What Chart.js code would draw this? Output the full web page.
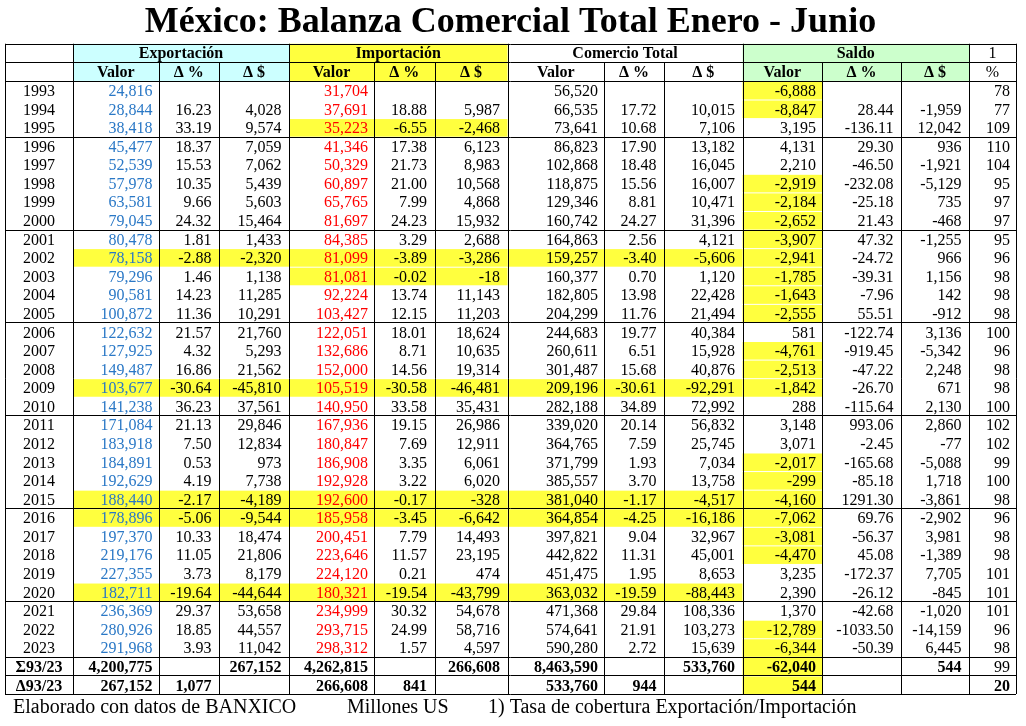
<!DOCTYPE html>
<html lang="es">
<head>
<meta charset="UTF-8">
<title>México: Balanza Comercial Total Enero - Junio</title>
<script src="https://cdn.jsdelivr.net/npm/chart.js"></script>
<style>
    body { margin: 0; background: white; }
    #wrap { width: 1026px; height: 726px; }
</style>
</head>
<body>
<div id="wrap"><canvas id="tabla" width="1026" height="726"></canvas></div>
<script>
    // datos en millones de US$, enero-junio de cada año
    const years = ['1993','1994','1995','1996','1997','1998','1999','2000','2001','2002','2003','2004','2005','2006','2007','2008','2009','2010','2011','2012','2013','2014','2015','2016','2017','2018','2019','2020','2021','2022','2023'];

    const expValor = [24816,28844,38418,45477,52539,57978,63581,79045,80478,78158,79296,90581,100872,122632,127925,149487,103677,141238,171084,183918,184891,192629,188440,178896,197370,219176,227355,182711,236369,280926,291968];
    const expPct = [null,16.23,33.19,18.37,15.53,10.35,9.66,24.32,1.81,-2.88,1.46,14.23,11.36,21.57,4.32,16.86,-30.64,36.23,21.13,7.50,0.53,4.19,-2.17,-5.06,10.33,11.05,3.73,-19.64,29.37,18.85,3.93];
    const expDiff = [null,4028,9574,7059,7062,5439,5603,15464,1433,-2320,1138,11285,10291,21760,5293,21562,-45810,37561,29846,12834,973,7738,-4189,-9544,18474,21806,8179,-44644,53658,44557,11042];

    const impValor = [31704,37691,35223,41346,50329,60897,65765,81697,84385,81099,81081,92224,103427,122051,132686,152000,105519,140950,167936,180847,186908,192928,192600,185958,200451,223646,224120,180321,234999,293715,298312];
    const impPct = [null,18.88,-6.55,17.38,21.73,21.00,7.99,24.23,3.29,-3.89,-0.02,13.74,12.15,18.01,8.71,14.56,-30.58,33.58,19.15,7.69,3.35,3.22,-0.17,-3.45,7.79,11.57,0.21,-19.54,30.32,24.99,1.57];
    const impDiff = [null,5987,-2468,6123,8983,10568,4868,15932,2688,-3286,-18,11143,11203,18624,10635,19314,-46481,35431,26986,12911,6061,6020,-328,-6642,14493,23195,474,-43799,54678,58716,4597];

    const comValor = [56520,66535,73641,86823,102868,118875,129346,160742,164863,159257,160377,182805,204299,244683,260611,301487,209196,282188,339020,364765,371799,385557,381040,364854,397821,442822,451475,363032,471368,574641,590280];
    const comPct = [null,17.72,10.68,17.90,18.48,15.56,8.81,24.27,2.56,-3.40,0.70,13.98,11.76,19.77,6.51,15.68,-30.61,34.89,20.14,7.59,1.93,3.70,-1.17,-4.25,9.04,11.31,1.95,-19.59,29.84,21.91,2.72];
    const comDiff = [null,10015,7106,13182,16045,16007,10471,31396,4121,-5606,1120,22428,21494,40384,15928,40876,-92291,72992,56832,25745,7034,13758,-4517,-16186,32967,45001,8653,-88443,108336,103273,15639];

    const salValor = [-6888,-8847,3195,4131,2210,-2919,-2184,-2652,-3907,-2941,-1785,-1643,-2555,581,-4761,-2513,-1842,288,3148,3071,-2017,-299,-4160,-7062,-3081,-4470,3235,2390,1370,-12789,-6344];
    const salPct = [null,28.44,-136.11,29.30,-46.50,-232.08,-25.18,21.43,47.32,-24.72,-39.31,-7.96,55.51,-122.74,-919.45,-47.22,-26.70,-115.64,993.06,-2.45,-165.68,-85.18,1291.30,69.76,-56.37,45.08,-172.37,-26.12,-42.68,-1033.50,-50.39];
    const salDiff = [null,-1959,12042,936,-1921,-5129,735,-468,-1255,966,1156,142,-912,3136,-5342,2248,671,2130,2860,-77,-5088,1718,-3861,-2902,3981,-1389,7705,-845,-1020,-14159,6445];

    // 1) tasa de cobertura exportación/importación (%)
    const cobertura = [78,77,109,110,104,95,97,97,95,96,98,98,98,100,96,98,98,100,102,102,99,100,98,96,98,98,101,101,101,96,98];

    const sumLabels = ['Σ93/23', 'Δ93/23'];
    const sumTotal = [4200775, null, 267152, 4262815, null, 266608, 8463590, null, 533760, -62040, null, 544, 99];
    const sumDelta = [267152, 1077, null, 266608, 841, null, 533760, 944, null, 544, null, null, 20];

    const groupLabels = ['Exportación', 'Importación', 'Comercio Total', 'Saldo'];
    const subLabels = ['Valor', 'Δ %', 'Δ $'];
    const notaLabel = '1';
    const notaSub = '%';
    const footerTexts = ['Elaborado con datos de BANXICO', 'Millones US', '1) Tasa de cobertura Exportación/Importación'];

    const series = [expValor, expPct, expDiff, impValor, impPct, impDiff, comValor, comPct, comDiff, salValor, salPct, salDiff, cobertura];
    const pctCols = [2, 5, 8, 11];

    // layout: column edges in pixels from the table's left border
    const colEdges = [0, 68, 153.5, 214, 284, 369, 429.5, 502.5, 599, 659, 737.5, 817, 896, 964, 1011];
    const rowCount = 35;
    const serif = '"Liberation Serif", "Times New Roman", serif';
    const yellow = '#ffff3e';

    function fmt(v, col) {
        if (v === null || v === undefined) return '';
        if (pctCols.includes(col)) return v.toFixed(2);
        return v.toLocaleString('en-US');
    }

    const tablePlugin = {
        id: 'tabla',
        afterDraw(chart) {
            const ctx = chart.ctx;
            const xs = chart.scales.x, ys = chart.scales.y;
            const X = i => xs.getPixelForValue(colEdges[i]);
            const Y = r => ys.getPixelForValue(r);
            ctx.save();

            function fillCells(c0, c1, r0, r1, color, gap) {
                ctx.fillStyle = color;
                ctx.fillRect(X(c0), Y(r0) + gap, X(c1) - X(c0), Y(r1) - Y(r0) - gap);
            }

            // header backgrounds
            fillCells(1, 4, 0, 2, '#ccffff', 0);
            fillCells(4, 7, 0, 2, yellow, 0);
            fillCells(10, 13, 0, 2, '#ccffcc', 0);

            // yellow marks: group falls (negative Δ %) and negative balance
            years.forEach((y, i) => {
                const r = i + 2;
                [expPct, impPct, comPct].forEach((p, g) => {
                    if (p[i] !== null && p[i] < 0) fillCells(1 + g * 3, 4 + g * 3, r, r + 1, yellow, 1);
                });
                if (salValor[i] < 0) fillCells(10, 11, r, r + 1, yellow, 1);
            });
            // saldo of both summary rows is marked in the original
            fillCells(10, 11, 33, 34, yellow, 1);
            fillCells(10, 11, 34, 35, yellow, 1);

            // header text
            ctx.fillStyle = '#000';
            ctx.textAlign = 'center';
            ctx.textBaseline = 'alphabetic';
            ctx.font = 'bold 16px ' + serif;
            groupLabels.forEach((g, k) => {
                ctx.fillText(g, (X(1 + k * 3) + X(4 + k * 3)) / 2, Y(1) - 4);
                subLabels.forEach((s, j) => {
                    const c = 1 + k * 3 + j;
                    ctx.fillText(s, (X(c) + X(c + 1)) / 2, Y(2) - 4);
                });
            });
            ctx.font = '16px ' + serif;
            ctx.fillText(notaLabel, (X(13) + X(14)) / 2, Y(1) - 4);
            ctx.fillText(notaSub, (X(13) + X(14)) / 2, Y(2) - 4);

            // data rows
            years.forEach((y, i) => {
                const base = Y(i + 3) - 3.5;
                ctx.font = '16px ' + serif;
                ctx.textAlign = 'center';
                ctx.fillStyle = '#000';
                ctx.fillText(y, (X(0) + X(1)) / 2, base);
                ctx.textAlign = 'right';
                series.forEach((s, k) => {
                    const col = k + 1;
                    ctx.fillStyle = col === 1 ? '#2a78c6' : (col === 4 ? '#ff0000' : '#000');
                    const pad = [1, 4, 7, 10, 13].includes(col) ? 6 : 7.5;
                    ctx.fillText(fmt(s[i], col), X(col + 1) - pad, base);
                });
            });

            // summary rows
            [sumTotal, sumDelta].forEach((vals, j) => {
                const r = 33 + j;
                const base = Y(r + 1) - 3.5;
                ctx.fillStyle = '#000';
                ctx.font = 'bold 16px ' + serif;
                ctx.textAlign = 'center';
                ctx.fillText(sumLabels[j], (X(0) + X(1)) / 2, base);
                ctx.textAlign = 'right';
                vals.forEach((v, k) => {
                    const col = k + 1;
                    ctx.font = (j === 0 && col === 13 ? '' : 'bold ') + '16px ' + serif;
                    const pad = [1, 4, 7, 10, 13].includes(col) ? 6 : 7.5;
                    ctx.fillText(fmt(v, 0), X(col + 1) - pad, base);
                });
            });

            // grid
            ctx.strokeStyle = '#000';
            ctx.lineWidth = 1;
            const hx = v => Math.round(v) + 0.5;
            ctx.beginPath();
            [0, 1, 2, 5, 10, 15, 20, 25, 30, 33, 34, 35].forEach(r => {
                ctx.moveTo(X(0), hx(Y(r)));
                ctx.lineTo(X(14), hx(Y(r)));
            });
            [0, 1, 4, 7, 10, 13, 14].forEach(c => {
                ctx.moveTo(hx(X(c)), Y(0));
                ctx.lineTo(hx(X(c)), Y(1));
            });
            colEdges.forEach((e, c) => {
                ctx.moveTo(hx(X(c)), Y(1));
                ctx.lineTo(hx(X(c)), Y(rowCount));
            });
            ctx.stroke();

            // footer
            ctx.fillStyle = '#000';
            ctx.font = '20px ' + serif;
            ctx.textAlign = 'left';
            const footX = [8, 342, 483];
            footerTexts.forEach((t, k) => ctx.fillText(t, xs.getPixelForValue(footX[k]), Y(rowCount) + 19));

            ctx.restore();
        }
    };

    new Chart(document.getElementById('tabla'), {
        type: 'scatter',
        data: { datasets: [] },
        options: {
            responsive: false,
            animation: false,
            layout: { padding: { left: 5, right: 10, top: 0, bottom: 32 } },
            scales: {
                x: { type: 'linear', min: 0, max: colEdges[colEdges.length - 1], display: false },
                y: { type: 'linear', min: 0, max: rowCount, reverse: true, display: false }
            },
            plugins: {
                legend: { display: false },
                tooltip: { enabled: false },
                title: {
                    display: true,
                    text: 'México: Balanza Comercial Total Enero - Junio',
                    color: '#000',
                    font: { family: serif, size: 36, weight: 'bold', lineHeight: 1.16 },
                    padding: { top: 2, bottom: 0 }
                }
            }
        },
        plugins: [tablePlugin]
    });
</script>
</body>
</html>
